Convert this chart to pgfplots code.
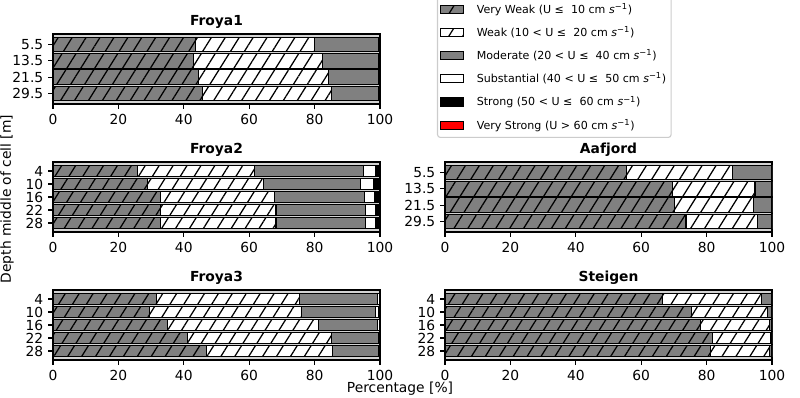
\documentclass[border=0pt]{standalone}
\usepackage{pgfplots}
\pgfplotsset{compat=1.18}
\usepackage{fontspec}
\setmainfont{DejaVu Sans}
\usetikzlibrary{patterns.meta}
\definecolor{bgcol}{RGB}{211,211,211}
\definecolor{lgedge}{RGB}{204,204,204}
\pgfplotsset{
  myaxis/.style={
    xbar stacked, scale only axis, width=235.44bp, height=50.4bp,
    xmin=0, xmax=100, xtick={0,20,...,100},
    y dir=reverse, bar width=0.9,
    axis background/.style={fill=bgcol},
    tick align=outside, major tick length=3.5bp,
    tick style={black, line width=0.8bp},
    axis line style={line width=0.8bp},
    xtick pos=bottom, ytick pos=left,
    ticklabel style={font=\fontsize{10}{12}\selectfont},
    /pgf/number format/assume math mode=true,
    title style={font=\bfseries\fontsize{10}{12}\selectfont, at={(0.5,1)}, anchor=base, yshift=0bp},
    anchor=north west,
    legend image code/.code={\draw[##1, sharp corners] (0bp,-2.88bp) rectangle (16.5bp,2.88bp); \path (24bp,0bp);},
  },
  four/.style={ymin=-0.645, ymax=3.645, ytick={0,1,2,3}, yticklabels={5.5,13.5,21.5,29.5}},
  five/.style={ymin=-0.695, ymax=4.695, ytick={0,1,2,3,4}, yticklabels={4,10,16,22,28}},
  vw/.style={fill=gray, draw=black, line width=0.8bp, postaction={pattern={Lines[angle=58,distance=8.5bp,line width=0.9bp]}, pattern color=black}},
  wk/.style={fill=white, draw=black, line width=0.8bp, postaction={pattern={Lines[angle=58,distance=8.5bp,line width=0.9bp]}, pattern color=black}},
  md/.style={fill=gray, draw=black, line width=0.8bp},
  sb/.style={fill=white, draw=black, line width=0.8bp},
  st/.style={fill=black, draw=black, line width=0.8bp},
  vs/.style={fill=red, draw=black, line width=0.8bp},
}
\begin{document}
\begin{tikzpicture}
\useasboundingbox (0,0) rectangle (576bp,-286.56bp);
% Froya1
\begin{axis}[myaxis, four, at={(38.16bp,-24.48bp)}, title={Froya1}]
\addplot[vw] coordinates {(43.7,0) (43.0,1) (44.5,2) (45.8,3)};
\addplot[wk] coordinates {(36.2,0) (39.4,1) (39.7,2) (39.3,3)};
\addplot[md] coordinates {(19.6,0) (17.1,1) (15.5,2) (14.6,3)};
\addplot[sb] coordinates {(0.4,0) (0.4,1) (0.25,2) (0.25,3)};
\addplot[st] coordinates {(0.1,0) (0.1,1) (0.05,2) (0.05,3)};
\addplot[vs] coordinates {(0,0) (0,1) (0,2) (0,3)};
\end{axis}
% Froya2
\begin{axis}[myaxis, five, at={(38.16bp,-116.64bp)}, title={Froya2}]
\addplot[vw] coordinates {(25.9,0) (29.0,1) (32.8,2) (33.0,3) (32.8,4)};
\addplot[wk] coordinates {(35.6,0) (35.4,1) (34.9,2) (35.2,3) (35.4,4)};
\addplot[md] coordinates {(33.4,0) (29.7,1) (27.6,2) (27.4,3) (27.4,4)};
\addplot[sb] coordinates {(3.6,0) (3.9,1) (3.1,2) (3.1,3) (3.1,4)};
\addplot[st] coordinates {(1.5,0) (1.4,1) (1.6,2) (1.3,3) (1.3,4)};
\addplot[vs] coordinates {(0,0) (0.6,1) (0,2) (0,3) (0,4)};
\end{axis}
% Aafjord
\begin{axis}[myaxis, four, at={(320.4bp,-116.64bp)}, title={Aafjord},
  legend style={at={(-0.0245,3.363)}, anchor=north west, draw=lgedge, line width=0.8bp, rounded corners=2bp, fill=white,
    font=\fontsize{8}{9.6}\selectfont, inner xsep=2bp, inner ysep=3bp, row sep=5bp,
    nodes={inner sep=1.5bp}},
  legend cell align=left]
\addplot[vw] coordinates {(55.4,0) (69.6,1) (70.1,2) (73.7,3)};
\addplot[wk] coordinates {(32.6,0) (25.2,1) (24.2,2) (21.9,3)};
\addplot[md] coordinates {(11.9,0) (5.0,1) (5.5,2) (4.3,3)};
\addplot[sb] coordinates {(0.1,0) (0.2,1) (0.2,2) (0.1,3)};
\addplot[st] coordinates {(0,0) (0,1) (0,2) (0,3)};
\addplot[vs] coordinates {(0,0) (0,1) (0,2) (0,3)};
\addlegendentry{Very Weak (U ≤\ \ 10 cm \textit{s}\textsuperscript{−1})}
\addlegendentry{Weak (10 < U ≤\ \ 20 cm \textit{s}\textsuperscript{−1})}
\addlegendentry{Moderate (20 < U ≤\ \ 40 cm \textit{s}\textsuperscript{−1})}
\addlegendentry{Substantial (40 < U ≤\ \ 50 cm \textit{s}\textsuperscript{−1})}
\addlegendentry{Strong (50 < U ≤\ \ 60 cm \textit{s}\textsuperscript{−1})}
\addlegendentry{Very Strong (U > 60 cm \textit{s}\textsuperscript{−1})}
\end{axis}
% Froya3
\begin{axis}[myaxis, five, at={(38.16bp,-208.8bp)}, title={Froya3}]
\addplot[vw] coordinates {(31.7,0) (29.5,1) (34.9,2) (41.0,3) (47.0,4)};
\addplot[wk] coordinates {(43.8,0) (46.5,1) (46.3,2) (44.1,3) (38.5,4)};
\addplot[md] coordinates {(23.7,0) (22.7,1) (18.0,2) (14.6,3) (14.2,4)};
\addplot[sb] coordinates {(0.6,0) (0.8,1) (0.6,2) (0.25,3) (0.25,4)};
\addplot[st] coordinates {(0.2,0) (0.5,1) (0.2,2) (0.05,3) (0.05,4)};
\addplot[vs] coordinates {(0,0) (0,1) (0,2) (0,3) (0,4)};
\end{axis}
% Steigen
\begin{axis}[myaxis, five, at={(320.4bp,-208.8bp)}, title={Steigen}]
\addplot[vw] coordinates {(66.6,0) (75.5,1) (78.1,2) (81.7,3) (81.3,4)};
\addplot[wk] coordinates {(30.2,0) (23.0,1) (21.1,2) (17.8,3) (17.9,4)};
\addplot[md] coordinates {(3.2,0) (1.4,1) (0.7,2) (0.45,3) (0.7,4)};
\addplot[sb] coordinates {(0,0) (0.1,1) (0.1,2) (0.05,3) (0.1,4)};
\addplot[st] coordinates {(0,0) (0,1) (0,2) (0,3) (0,4)};
\addplot[vs] coordinates {(0,0) (0,1) (0,2) (0,3) (0,4)};
\end{axis}
\node[rotate=90, font=\fontsize{10}{12}\selectfont] at (5.04bp,-143.3bp) {Depth middle of cell [m]};
\node[font=\fontsize{10}{12}\selectfont] at (288bp,-280.1bp) {Percentage [\%]};
\end{tikzpicture}
\end{document}
